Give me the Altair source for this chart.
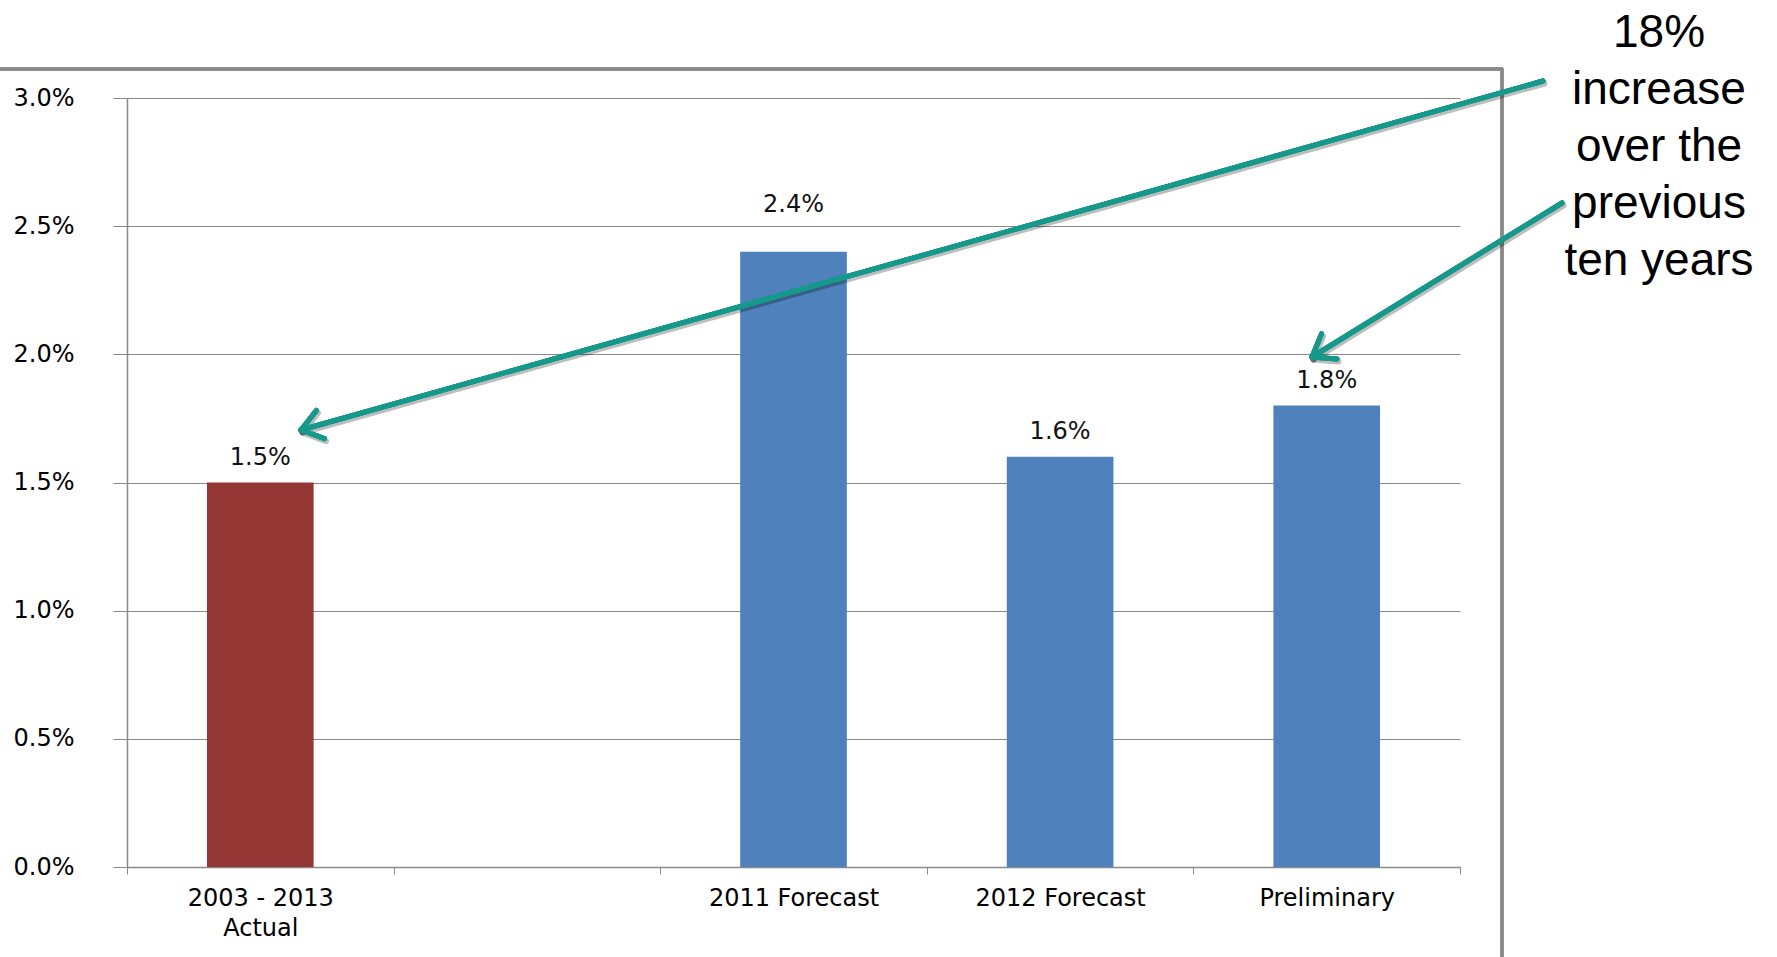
import math
import altair as alt
import pandas as pd

# ---- data ----
categories = ["2003 - 2013 Actual", " ", "2011 Forecast", "2012 Forecast", "Preliminary"]
bar_categories = ["2003 - 2013 Actual", "2011 Forecast", "2012 Forecast", "Preliminary"]
bar_values = [0.015, 0.024, 0.016, 0.018]
bar_colors = ["#953735", "#4F81BD", "#4F81BD", "#4F81BD"]
y_ticks = [0.0, 0.005, 0.010, 0.015, 0.020, 0.025, 0.030]
annotation_lines = ["18%", "increase", "over the", "previous", "ten years"]

df = pd.DataFrame({"category": bar_categories, "value": bar_values})

W, H = 1333, 769
PAD = {"left": 127, "top": 98, "right": 317, "bottom": 90}
GRAY = "#898989"
TEAL = "#16998B"
FS = 24

xenc = alt.X(
    "category:N",
    sort=categories,
    scale=alt.Scale(domain=categories, paddingInner=0, paddingOuter=0),
    axis=alt.Axis(
        title=None, labelAngle=0, tickBand="extent", grid=False,
        labelExpr="datum.label == '2003 - 2013 Actual' ? ['2003 - 2013', 'Actual'] : datum.label",
        labelFont="DejaVu Sans", labelFontSize=FS, labelColor="#000000",
        labelLineHeight=30, labelPadding=12, labelBaseline="top",
        tickSize=7, tickColor=GRAY, domainColor=GRAY, domainWidth=1.5,
    ),
)
yenc = alt.Y(
    "value:Q",
    scale=alt.Scale(domain=[0, 0.03], nice=False, zero=True),
    axis=alt.Axis(
        title=None, values=y_ticks, format=".1%",
        labelFont="DejaVu Sans", labelFontSize=FS, labelColor="#000000",
        labelAlign="left", labelPadding=100, labelBaseline="middle",
        tickSize=14, tickColor=GRAY, domainColor=GRAY, domainWidth=1.5,
        grid=True, gridColor=GRAY, gridWidth=1.2,
    ),
)

bars = alt.Chart(df).mark_bar(width=alt.RelativeBandSize(0.4)).encode(
    x=xenc,
    y=yenc,
    color=alt.Color("category:N", scale=alt.Scale(domain=bar_categories, range=bar_colors), legend=None),
)

label_common = dict(baseline="alphabetic", align="center", font="DejaVu Sans", fontSize=FS, color="#111111")
labels_low = alt.Chart(df).transform_filter(
    "datum.category != '2011 Forecast'"
).mark_text(dy=-18, **label_common).encode(
    x=alt.X("category:N", sort=categories), y="value:Q", text=alt.Text("value:Q", format=".1%")
)
labels_high = alt.Chart(df).transform_filter(
    "datum.category == '2011 Forecast'"
).mark_text(dy=-40, **label_common).encode(
    x=alt.X("category:N", sort=categories), y="value:Q", text=alt.Text("value:Q", format=".1%")
)

# ---- decorations (pixel space relative to plot origin) ----
def seg(x1, y1, x2, y2, color, width, opacity=1.0, cap="round"):
    return alt.Chart(df).mark_rule(
        color=color, strokeWidth=width, opacity=opacity, strokeCap=cap
    ).encode(x=alt.value(x1), x2=alt.value(x2), y=alt.value(y1), y2=alt.value(y2))

layers = [bars, labels_low, labels_high]

# slide frame
layers.append(seg(-140, -29, 1376, -29, "#8a8a8a", 3, cap="butt"))
layers.append(seg(1375, -30, 1375, 880, "#8a8a8a", 3, cap="butt"))

# arrows: (start, tip)
arrows = [((1416, -17), (174, 332)), ((1435, 105), (1185, 259))]
arm_len, arm_ang = 25, math.radians(36)
for shadow in (True, False):
    for (sx, sy), (tx, ty) in arrows:
        dx, dy = sx - tx, sy - ty
        d = math.hypot(dx, dy)
        ux, uy = dx / d, dy / d
        segs = [(sx, sy, tx, ty)]
        for a in (arm_ang, -arm_ang):
            ax = ux * math.cos(a) - uy * math.sin(a)
            ay = ux * math.sin(a) + uy * math.cos(a)
            segs.append((tx, ty, tx + ax * arm_len, ty + ay * arm_len))
        for (x1, y1, x2, y2) in segs:
            if shadow:
                layers.append(seg(x1 + 1.5, y1 + 2.5, x2 + 1.5, y2 + 2.5, "#000000", 6, opacity=0.07))
            else:
                layers.append(seg(x1, y1, x2, y2, TEAL, 5))

note = alt.Chart(pd.DataFrame({"t": [annotation_lines]})).mark_text(
    font="Liberation Sans", fontSize=46, align="center", baseline="alphabetic",
    lineHeight=57, color="#000000",
).encode(x=alt.value(1532), y=alt.value(-51), text="t")
layers.append(note)

chart = alt.layer(*layers).properties(
    width=W, height=H,
    autosize=alt.AutoSizeParams(type="none"),
    padding=PAD,
    background="white",
).configure_view(stroke=None)

chart.save("out.html", embed_options={"renderer": "svg", "actions": False})
